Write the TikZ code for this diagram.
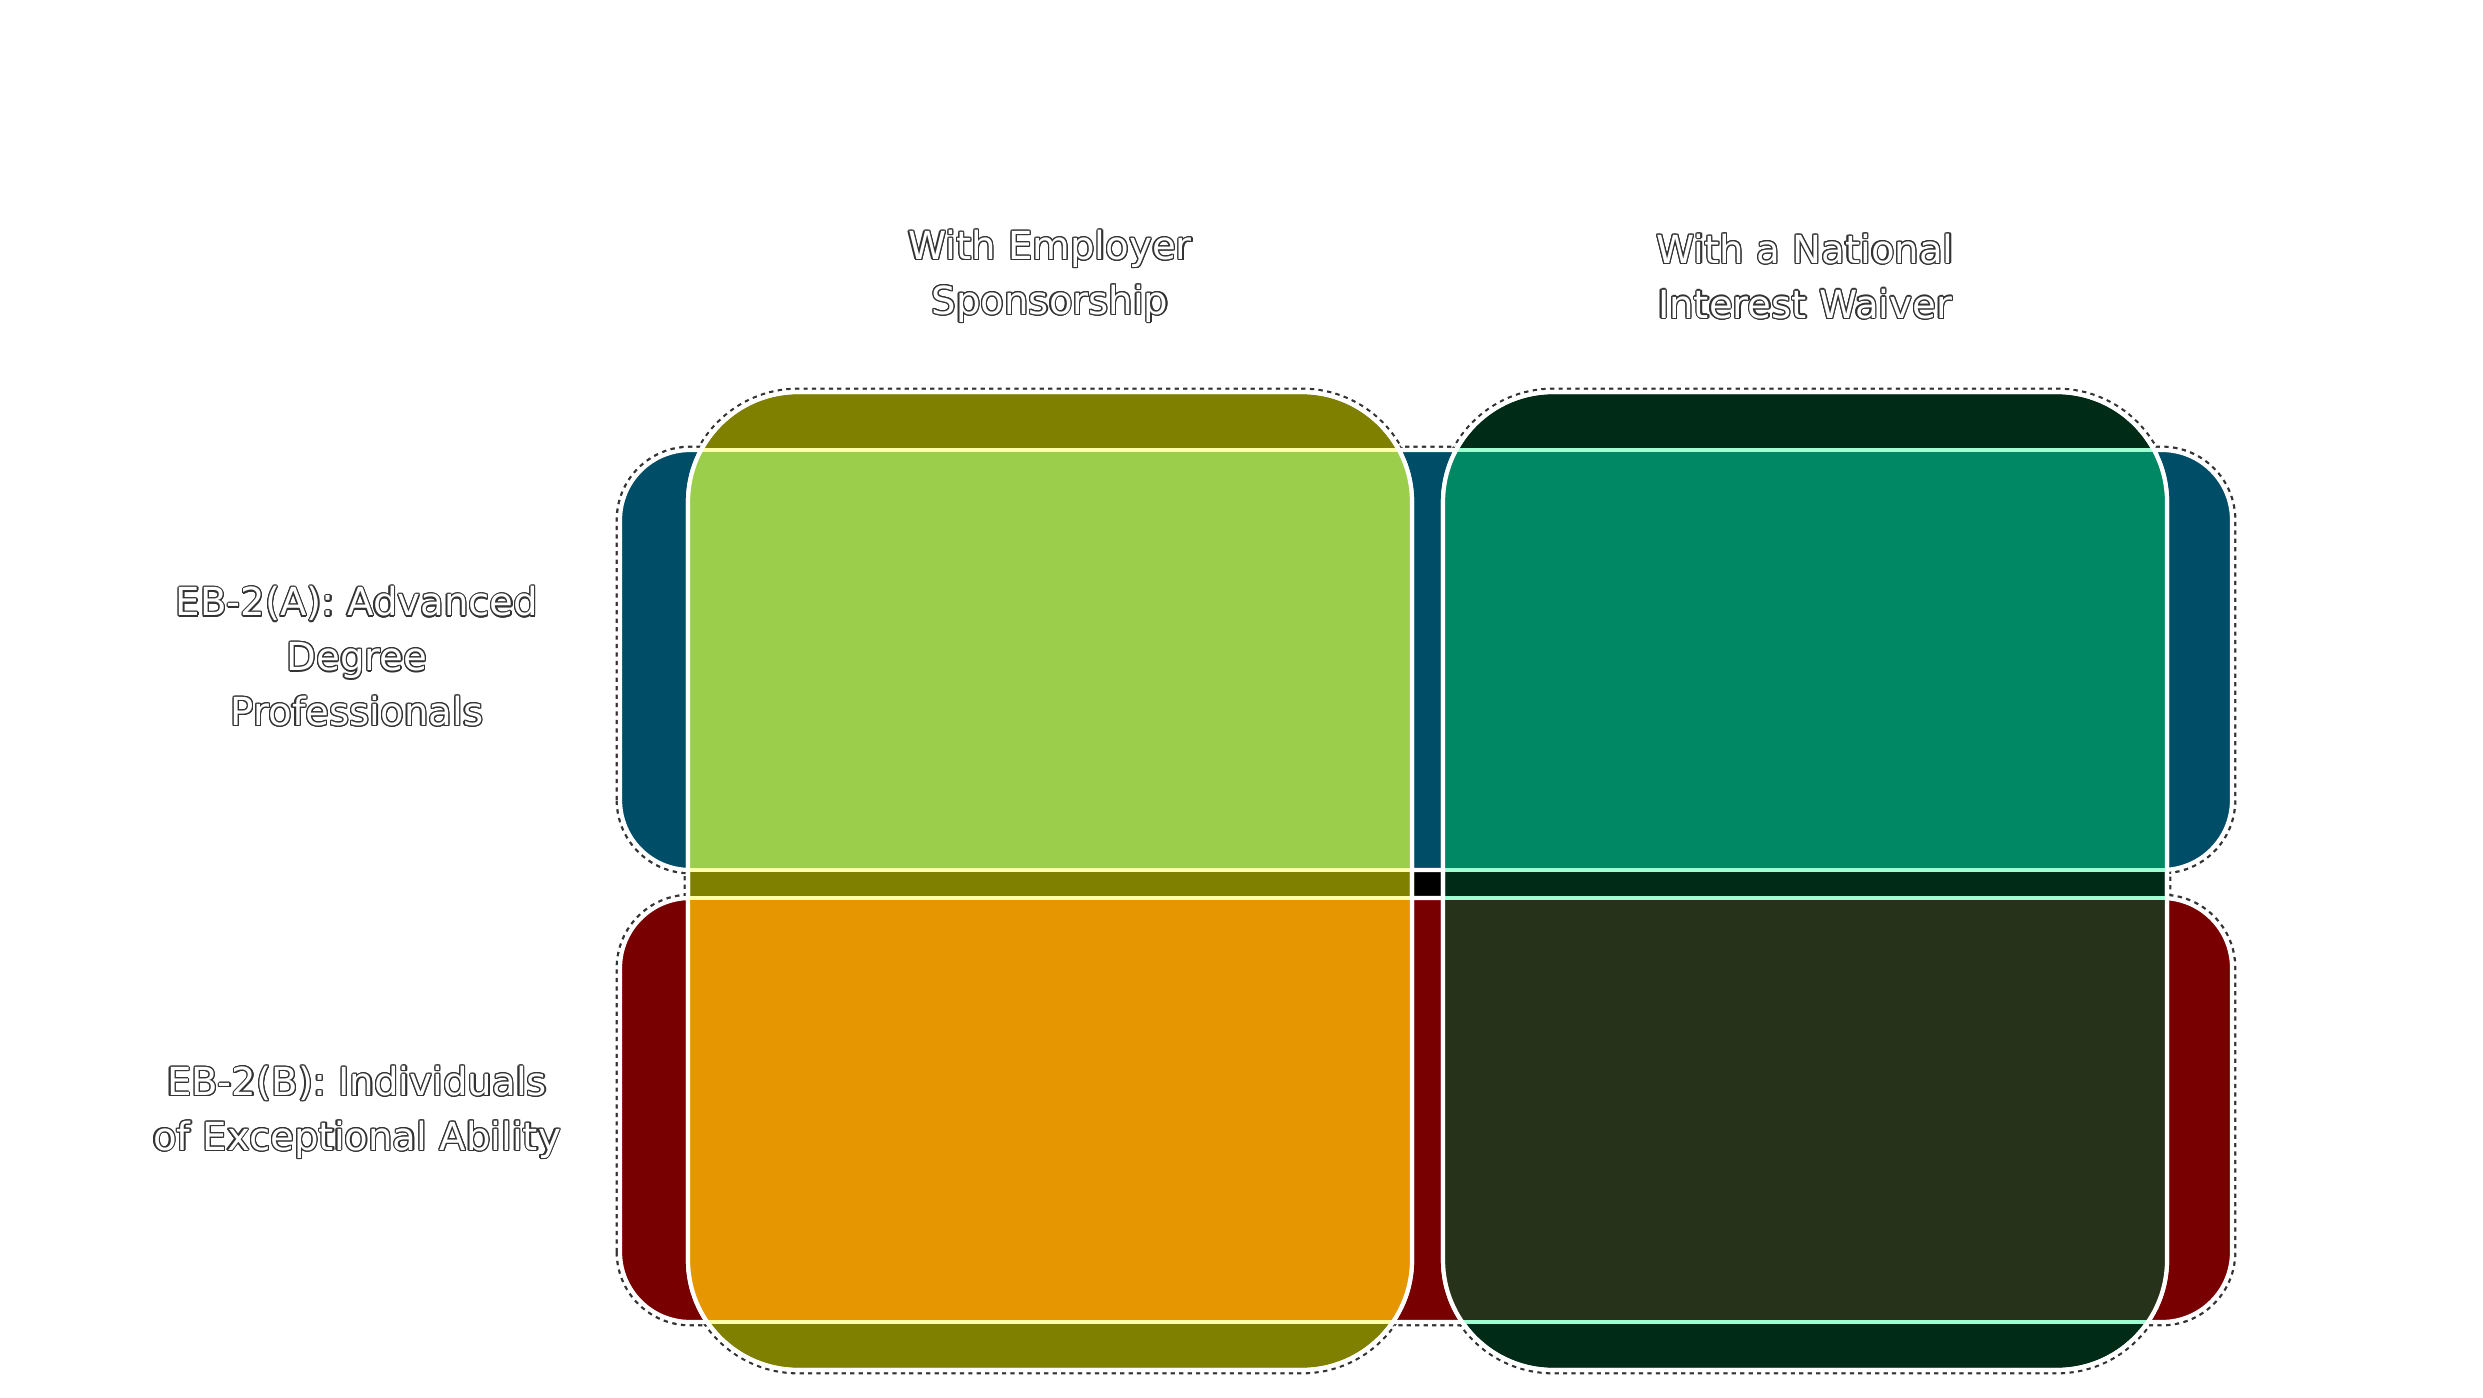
\documentclass[tikz,border=0pt]{standalone}
\usepackage{fontspec}
\setmainfont{DejaVu Sans}
\usepackage{contour}
\contourlength{0.35pt}
\usetikzlibrary{backgrounds}

\definecolor{rowblue}{HTML}{004D68}
\definecolor{rowred}{HTML}{780000}
\definecolor{cololive}{HTML}{808000}
\definecolor{colgreen}{HTML}{002B17}
\definecolor{cellAA}{HTML}{9BCE4B}
\definecolor{cellAB}{HTML}{008764}
\definecolor{cellBA}{HTML}{E59600}
\definecolor{cellBB}{HTML}{263219}
\definecolor{glowolive}{HTML}{FFFFAA}
\definecolor{glowgreen}{HTML}{A0FFD2}

\newcommand{\rimtext}[1]{\contour{black!80}{#1}}

\begin{document}
\begin{tikzpicture}[
    band/.style={rectangle, draw=white, line width=1.2pt, inner sep=0pt, outer sep=0pt},
    rowband/.style={band, rounded corners=0.7cm, minimum width=16.12cm, minimum height=4.2cm},
    colband/.style={band, rounded corners=1.1cm, minimum width=7.24cm, minimum height=9.78cm},
    rim/.style={draw=black!80, line width=2.5pt, dash pattern=on 1.2pt off 1.2pt},
    headtext/.style={text=white, align=center, font=\fontsize{11}{15.6}\selectfont}
]
    \useasboundingbox (0,0) rectangle (24.83,13.97);

    % Rows
    \node[rowband, fill=rowblue] (rowA) at (14.26, 7.37) {};
    \node[rowband, fill=rowred, minimum height=4.24cm] (rowB) at (14.26, 2.87) {};

    % Columns
    \node[colband, fill=cololive] (colA) at (10.50, 5.16) {};
    \node[colband, fill=colgreen] (colB) at (18.05, 5.16) {};

    % Shadow rims and middle gap
    \begin{scope}[on background layer]
        \draw[rim, rounded corners=0.7cm] (rowA.south west) rectangle (rowA.north east);
        \draw[rim, rounded corners=0.7cm] (rowB.south west) rectangle (rowB.north east);
        \draw[rim, rounded corners=1.1cm] (colA.south west) rectangle (colA.north east);
        \draw[rim, rounded corners=1.1cm] (colB.south west) rectangle (colB.north east);
        \fill[black] (colA.east |- rowA.south) rectangle (colB.west |- rowB.north);
    \end{scope}

    % Cells, left column
    \begin{scope}
        \clip[rounded corners=1.1cm] (colA.south west) rectangle (colA.north east);
        \fill[cellAA] (rowA.south west) rectangle (rowA.north east);
        \fill[cellBA] (rowB.south west) rectangle (rowB.north east);
        \draw[glowolive, line width=1pt] (rowA.north west) -- (rowA.north east);
        \draw[glowolive, line width=1pt] (rowA.south west) -- (rowA.south east);
        \draw[glowolive, line width=1pt] (rowB.north west) -- (rowB.north east);
        \draw[glowolive, line width=1pt] (rowB.south west) -- (rowB.south east);
    \end{scope}

    % Cells, right column
    \begin{scope}
        \clip[rounded corners=1.1cm] (colB.south west) rectangle (colB.north east);
        \fill[cellAB] (rowA.south west) rectangle (rowA.north east);
        \fill[cellBB] (rowB.south west) rectangle (rowB.north east);
        \draw[glowgreen, line width=1pt] (rowA.north west) -- (rowA.north east);
        \draw[glowgreen, line width=1pt] (rowA.south west) -- (rowA.south east);
        \draw[glowgreen, line width=1pt] (rowB.north west) -- (rowB.north east);
        \draw[glowgreen, line width=1pt] (rowB.south west) -- (rowB.south east);
    \end{scope}

    % Column outlines again
    \draw[white, line width=1.2pt, rounded corners=1.1cm] (colA.south west) rectangle (colA.north east);
    \draw[white, line width=1.2pt, rounded corners=1.1cm] (colB.south west) rectangle (colB.north east);

    % Column labels
    \node[headtext] (headA) at (10.50, 11.20) {\rimtext{With Employer}\\\rimtext{Sponsorship}};
    \node[headtext] (headB) at (18.05, 11.20) {\rimtext{With a National}\\\rimtext{Interest Waiver}};

    % Row labels
    \node[headtext] (sideA) at (3.57, 7.40) {\rimtext{EB-2(A): Advanced}\\\rimtext{Degree}\\\rimtext{Professionals}};
    \node[headtext] (sideB) at (3.57, 2.84) {\rimtext{EB-2(B): Individuals}\\\rimtext{of Exceptional Ability}};

\end{tikzpicture}
\end{document}
